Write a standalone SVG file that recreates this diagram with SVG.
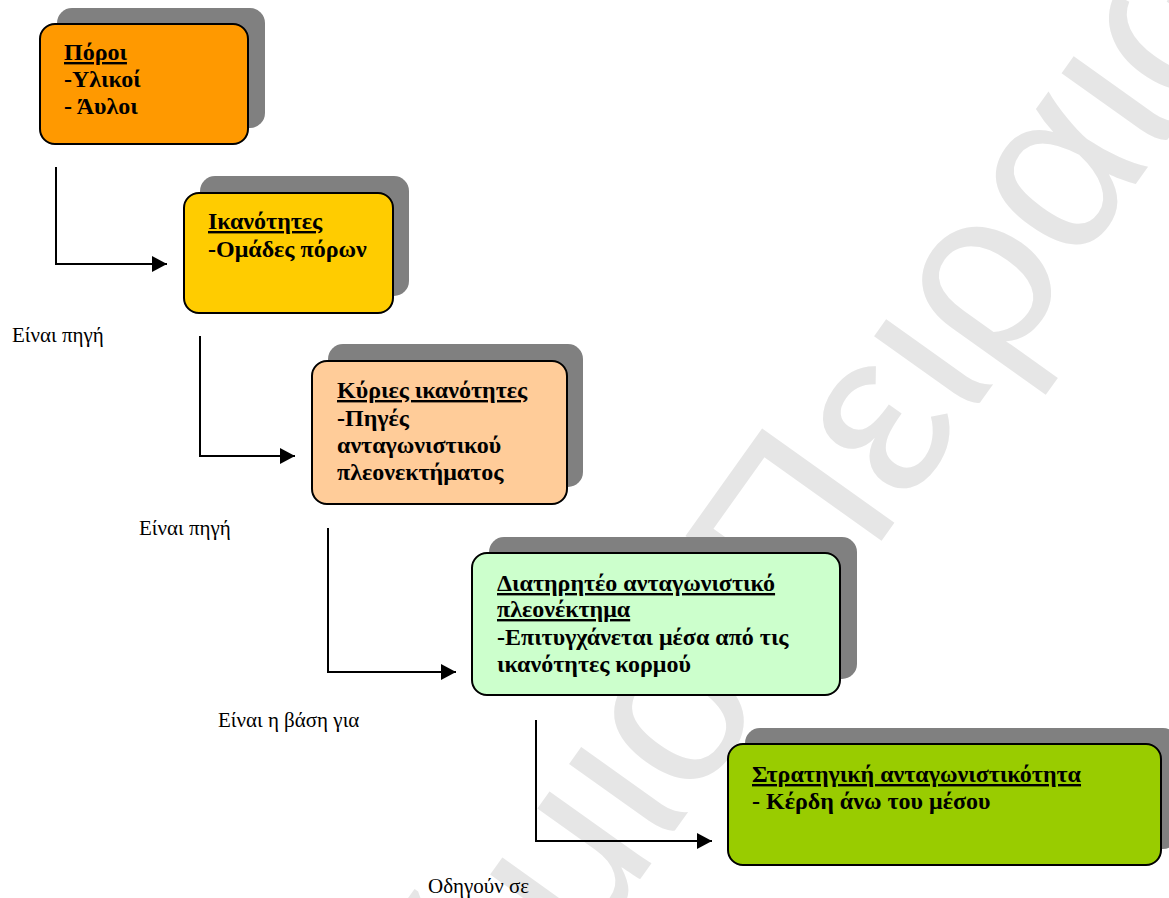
<svg xmlns="http://www.w3.org/2000/svg" width="1169" height="898" viewBox="0 0 1169 898">
  <defs>
    <marker id="arrow" viewBox="0 0 15 16" refX="15" refY="8" markerWidth="15" markerHeight="16" markerUnits="userSpaceOnUse" orient="auto">
      <path d="M0,0 L15,8 L0,16 Z" fill="#000"/>
    </marker>
    <style>
      .shadow { fill: #808080; }
      .box { stroke: #000; stroke-width: 2; }
      .t { font-family: "Liberation Serif", "Times New Roman", serif; font-weight: bold; font-size: 24px; fill: #000; }
      .u { text-decoration: underline; }
      .lbl { font-family: "Liberation Serif", "Times New Roman", serif; font-size: 21px; fill: #000; }
      .conn { fill: none; stroke: #000; stroke-width: 2; }
      .wm { font-family: "Liberation Sans", Arial, sans-serif; font-size: 236px; fill: #e6e6e6; }
    </style>
  </defs>
  <rect width="1169" height="898" fill="#fff"/>

  <!-- background watermark -->
  <g id="watermark">
    <text class="wm" transform="translate(806.4,645.9) rotate(-54.5)"><tspan x="-66" text-anchor="end">Πανεπιστήμιο</tspan><tspan x="0" text-anchor="start">Πειραιώς</tspan></text>
  </g>

  <g id="node-poroi">
    <rect class="shadow" x="57" y="8" width="208" height="120" rx="15"/>
    <rect class="box" x="40" y="24" width="208" height="120" rx="15" fill="#ff9900"/>
    <text class="t"><tspan class="u" x="64" y="60">Πόροι</tspan><tspan x="64" y="87">-Υλικοί</tspan><tspan x="64" y="114">- Άυλοι</tspan></text>
  </g>

  <g id="node-ikanotites">
    <rect class="shadow" x="200" y="176" width="209" height="120" rx="15"/>
    <rect class="box" x="184" y="193" width="209" height="120" rx="15" fill="#ffcc00"/>
    <text class="t"><tspan class="u" x="208" y="229">Ικανότητες</tspan><tspan x="208" y="257">-Ομάδες πόρων</tspan></text>
  </g>

  <g id="node-kyries">
    <rect class="shadow" x="328" y="344" width="255" height="143" rx="15"/>
    <rect class="box" x="312" y="361" width="255" height="143" rx="15" fill="#ffcc99"/>
    <text class="t"><tspan class="u" x="337" y="398">Κύριες ικανότητες</tspan><tspan x="337" y="426">-Πηγές</tspan><tspan x="337" y="453">ανταγωνιστικού</tspan><tspan x="337" y="480">πλεονεκτήματος</tspan></text>
  </g>

  <g id="node-diatiriteo">
    <rect class="shadow" x="489" y="537" width="368" height="142" rx="15"/>
    <rect class="box" x="472" y="553" width="368" height="142" rx="15" fill="#ccffcc"/>
    <text class="t"><tspan class="u" x="497" y="591">Διατηρητέο ανταγωνιστικό</tspan><tspan class="u" x="497" y="617">πλεονέκτημα</tspan><tspan x="497" y="645">-Επιτυγχάνεται μέσα από τις</tspan><tspan x="497" y="672">ικανότητες κορμού</tspan></text>
  </g>

  <g id="node-stratigiki">
    <rect class="shadow" x="745" y="728" width="433" height="121" rx="15"/>
    <rect class="box" x="728" y="744" width="433" height="121" rx="15" fill="#99cc00"/>
    <text class="t"><tspan class="u" x="752" y="782">Στρατηγική ανταγωνιστικότητα</tspan><tspan x="752" y="809">- Κέρδη άνω του μέσου</tspan></text>
  </g>

  <g id="connectors">
    <path class="conn" d="M56,167 V264 H167" marker-end="url(#arrow)"/>
    <path class="conn" d="M200,336 V456 H295" marker-end="url(#arrow)"/>
    <path class="conn" d="M328,528 V672 H456" marker-end="url(#arrow)"/>
    <path class="conn" d="M536,720 V841 H712" marker-end="url(#arrow)"/>
  </g>

  <g id="labels">
    <text class="lbl" x="12" y="342">Είναι πηγή</text>
    <text class="lbl" x="139" y="535">Είναι πηγή</text>
    <text class="lbl" x="218" y="727">Είναι η βάση για</text>
    <text class="lbl" x="428" y="893">Οδηγούν σε</text>
  </g>
</svg>
